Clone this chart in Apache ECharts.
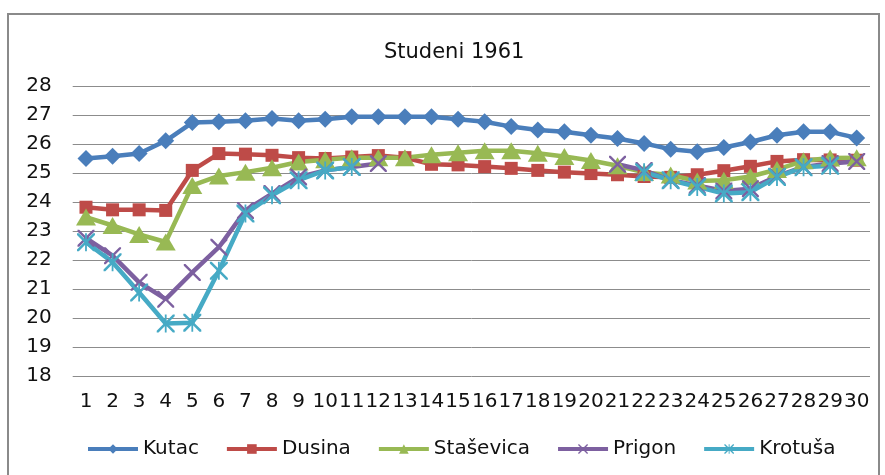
<!DOCTYPE html>
<html>
<head>
<meta charset="utf-8">
<script src="https://cdn.jsdelivr.net/npm/echarts@6/dist/echarts.min.js"></script>
<style>
html,body{margin:0;padding:0;background:#fff;}
#chart{width:885px;height:475px;}
</style>
</head>
<body>
<div id="chart"></div>
<script>
var categories = ['1','2','3','4','5','6','7','8','9','10','11','12','13','14','15','16','17','18','19','20','21','22','23','24','25','26','27','28','29','30'];
var kutac = [25.5, 25.58, 25.67, 26.11, 26.74, 26.77, 26.8, 26.88, 26.8, 26.85, 26.94, 26.94, 26.94, 26.94, 26.85, 26.77, 26.6, 26.48, 26.42, 26.3, 26.19, 26.02, 25.82, 25.73, 25.88, 26.07, 26.3, 26.42, 26.42, 26.21];
var dusina = [23.82, 23.73, 23.73, 23.71, 25.09, 25.67, 25.65, 25.61, 25.53, 25.5, 25.55, 25.6, 25.53, 25.3, 25.28, 25.22, 25.16, 25.09, 25.03, 24.98, 24.94, 24.88, 24.85, 24.94, 25.08, 25.23, 25.4, 25.46, 25.45, 25.44];
var stasevica = [23.48, 23.19, 22.88, 22.62, 24.57, 24.9, 25.03, 25.18, 25.38, 25.46, 25.53, 25.53, 25.53, 25.63, 25.7, 25.77, 25.77, 25.68, 25.57, 25.43, 25.25, 25.02, 24.93, 24.72, 24.75, 24.88, 25.12, 25.42, 25.52, 25.53];
var prigon = [22.75, 22.15, 21.23, 20.65, 21.57, 22.44, 23.71, 24.29, 24.86, 25.09, 25.21, 25.33, null, null, null, null, null, null, null, null, 25.3, 25.09, 24.75, 24.57, 24.38, 24.46, 24.89, 25.21, 25.33, 25.4];
var krotusa = [22.61, 21.92, 20.88, 19.81, 19.84, 21.63, 23.6, 24.23, 24.75, 25.09, 25.21, null, null, null, null, null, null, null, null, null, null, 25.03, 24.75, 24.52, 24.29, 24.34, 24.86, 25.2, 25.25, null];
var seriesNames = ['Kutac', 'Dusina', 'Staševica', 'Prigon', 'Krotuša'];
var yTicks = [18, 28, 1];

var FONT = 'DejaVu Sans';
var xPath = 'path://M0,0 L2,0 L10,8 L18,0 L20,0 L20,2 L12,10 L20,18 L20,20 L18,20 L10,12 L2,20 L0,20 L0,18 L8,10 L0,2 Z';
var starPath = 'path://M0,0 L2,0 L10,8 L18,0 L20,0 L20,2 L12,10 L20,18 L20,20 L18,20 L10,12 L2,20 L0,20 L0,18 L8,10 L0,2 Z M9,0 L11,0 L11,20 L9,20 Z';

function mk(name, data, color, symbol, size) {
  return {
    name: name, type: 'line', data: data,
    symbol: symbol, symbolSize: size, showSymbol: true,
    connectNulls: false,
    lineStyle: {color: color, width: 4.5},
    itemStyle: {color: color},
    emphasis: {disabled: true},
    animation: false
  };
}

var chart = echarts.init(document.getElementById('chart'), null, {renderer: 'canvas'});
chart.setOption({
  backgroundColor: '#fff',
  animation: false,
  graphic: [{
    type: 'rect', shape: {x: 8, y: 14, width: 871, height: 475},
    style: {fill: 'none', stroke: '#8a8a8a', lineWidth: 2}, silent: true, z: -10
  }],
  title: {
    text: 'Studeni 1961', left: 379, top: 37,
    textStyle: {fontFamily: FONT, fontSize: 21, fontWeight: 'normal', color: '#111'}
  },
  legend: {
    data: seriesNames, left: 86, top: 439, padding: 0,
    itemWidth: 50, itemHeight: 12, itemGap: 26,
    lineStyle: {width: 4},
    textStyle: {fontFamily: FONT, fontSize: 20, color: '#111'}
  },
  grid: {left: 72.7, right: 15, top: 86, bottom: 99, containLabel: false},
  xAxis: {
    type: 'category', data: categories, boundaryGap: true,
    axisLine: {show: false}, axisTick: {show: false},
    axisLabel: {interval: 0, fontFamily: FONT, fontSize: 20, color: '#111', margin: 16}
  },
  yAxis: {
    type: 'value', min: yTicks[0], max: yTicks[1], interval: yTicks[2],
    axisLine: {show: false}, axisTick: {show: false},
    axisLabel: {fontFamily: FONT, fontSize: 20, color: '#111', margin: 21},
    splitLine: {lineStyle: {color: '#8c8c8c', width: 1}}
  },
  series: [
    mk(seriesNames[0], kutac, '#4A7EBB', 'diamond', 17),
    mk(seriesNames[1], dusina, '#BE4B48', 'rect', 13),
    mk(seriesNames[2], stasevica, '#98B954', 'triangle', [20, 17]),
    mk(seriesNames[3], prigon, '#7D60A0', xPath, 17),
    mk(seriesNames[4], krotusa, '#46AAC5', starPath, 18)
  ]
});
</script>
</body>
</html>
